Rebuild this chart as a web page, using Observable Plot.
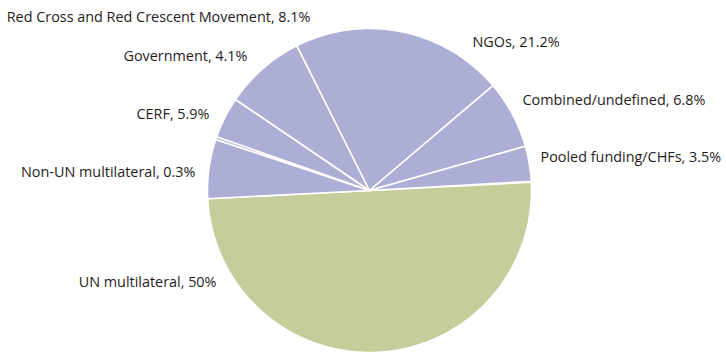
<!DOCTYPE html>
<html>
<head>
<meta charset="utf-8">
<script src="https://cdn.jsdelivr.net/npm/d3@7"></script>
<script src="https://cdn.jsdelivr.net/npm/@observablehq/plot@0.6"></script>
<style>
  html, body { margin: 0; padding: 0; background: #fff; }
</style>
</head>
<body>
<div id="chart"></div>
<script>
// ---- data ----
const categories = [
  "UN multilateral",
  "CERF",
  "Non-UN multilateral",
  "Government",
  "Red Cross and Red Crescent Movement",
  "NGOs",
  "Combined/undefined",
  "Pooled funding/CHFs"
];
const shares = [50, 5.9, 0.3, 4.1, 8.1, 21.2, 6.8, 3.5];
const sliceColors = ["#c5ce9a", "#adaed6", "#adaed6", "#adaed6", "#adaed6", "#adaed6", "#adaed6", "#adaed6"];

// ---- layout (not data) ----
const W = 726, H = 354;
const cx = 369, cy = 190, R = 162;
const startDeg = 87.1;
// label anchor points in pixels, per category (same order), with anchor side
const labelLayout = [
  {px: 216, py: 282, anchor: "end"},
  {px: 209, py: 114, anchor: "end"},
  {px: 195, py: 172, anchor: "end"},
  {px: 247, py: 56, anchor: "end"},
  {px: 310, py: 17, anchor: "end"},
  {px: 472, py: 42, anchor: "start"},
  {px: 522, py: 100, anchor: "start"},
  {px: 540, py: 157, anchor: "start"}
];

const pie = d3.pie().sort(null).value(d => d.share).startAngle(startDeg * Math.PI / 180).endAngle(startDeg * Math.PI / 180 + 2 * Math.PI * d3.sum(shares) / 100);
const table = categories.map((c, i) => ({category: c, share: shares[i], color: sliceColors[i]}));
const arcs = pie(table);

const slicePts = [];
for (const a of arcs) {
  const steps = Math.max(2, Math.ceil((a.endAngle - a.startAngle) / (Math.PI / 360)));
  slicePts.push({category: a.data.category, color: a.data.color, x: 0, y: 0});
  for (let k = 0; k <= steps; k++) {
    const t = a.startAngle + (a.endAngle - a.startAngle) * k / steps;
    slicePts.push({category: a.data.category, color: a.data.color, x: R * Math.sin(t), y: R * Math.cos(t)});
  }
  slicePts.push({category: a.data.category, color: a.data.color, x: 0, y: 0});
}

const labels = table.map((d, i) => ({
  text: `${d.category}, ${d.share}%`,
  x: labelLayout[i].px - cx,
  y: cy - labelLayout[i].py,
  anchor: labelLayout[i].anchor
}));

const chart = Plot.plot({
  width: W,
  height: H,
  margin: 0,
  style: {background: "#fff", fontFamily: "'Open Sans', sans-serif"},
  x: {domain: [-cx, W - cx], range: [0, W], axis: null},
  y: {domain: [cy, cy - H], range: [0, H], axis: null},
  color: {type: "identity"},
  marks: [
    Plot.line(slicePts, {x: "x", y: "y", z: "category", fill: "color", stroke: "#fff", strokeWidth: 1.6, strokeLinejoin: "round", curve: "linear"}),
    Plot.text(labels.filter(d => d.anchor === "end"), {x: "x", y: "y", text: "text", textAnchor: "end", fontSize: 14.4, fill: "#1f1c1d"}),
    Plot.text(labels.filter(d => d.anchor === "start"), {x: "x", y: "y", text: "text", textAnchor: "start", fontSize: 14.4, fill: "#1f1c1d"})
  ]
});
document.getElementById("chart").appendChild(chart);
</script>
</body>
</html>
